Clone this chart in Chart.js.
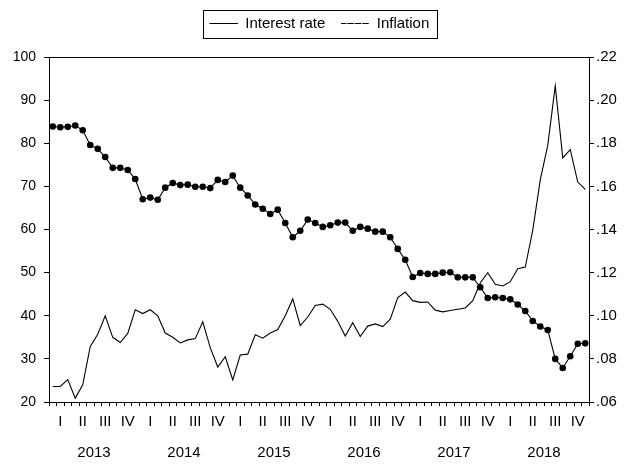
<!DOCTYPE html>
<html>
<head>
<meta charset="utf-8">
<script src="https://cdn.jsdelivr.net/npm/chart.js@4.4.1/dist/chart.umd.min.js"></script>
<style>
  html, body { margin: 0; padding: 0; background: #fff; }
</style>
</head>
<body>
<canvas id="chart" width="630" height="465"></canvas>
<script>
// Years and quarter names shown under the time axis
const years = [2013, 2014, 2015, 2016, 2017, 2018];
const quarterNames = ['I', 'II', 'III', 'IV'];

// Monthly categories, Jan 2013 .. Dec 2018
const months = [];
years.forEach(y => {
    for (let m = 1; m <= 12; m++) months.push(y + 'M' + String(m).padStart(2, '0'));
});

// Interest rate, left axis
const interestRate = [
    23.6, 23.6, 25.2, 20.9, 24.0, 32.9, 35.7, 40.0, 35.0, 33.8, 35.9, 41.4,
    40.5, 41.4, 40.0, 36.0, 35.0, 33.7, 34.4, 34.7, 38.6, 32.6, 28.1, 30.5,
    25.1, 30.9, 31.1, 35.6, 34.8, 36.0, 36.8, 40.0, 43.9, 37.7, 39.7, 42.4,
    42.7, 41.5, 38.7, 35.3, 38.4, 35.2, 37.6, 38.1, 37.5, 39.2, 44.2, 45.5,
    43.5, 43.1, 43.2, 41.3, 40.9, 41.2, 41.5, 41.8, 43.5, 47.6, 50.0, 47.3,
    46.9, 47.9, 50.9, 51.3, 59.8, 71.5, 79.5, 93.3, 76.6, 78.5, 71.0, 69.3
];

// Inflation, right axis
const inflation = [
    .1878, .1874, .1876, .1882, .1860, .1792, .1774, .1736, .1686, .1686, .1676, .1634,
    .1540, .1548, .1538, .1594, .1616, .1606, .1608, .1598, .1598, .1592, .1630, .1620,
    .1650, .1594, .1558, .1516, .1496, .1472, .1492, .1430, .1364, .1394, .1446, .1430,
    .1412, .1420, .1432, .1432, .1394, .1412, .1404, .1390, .1390, .1364, .1310, .1260,
    .1180, .1198, .1194, .1194, .1200, .1202, .1178, .1178, .1178, .1132, .1082, .1086,
    .1082, .1076, .1052, .1022, .0976, .0950, .0934, .0800, .0758, .0812, .0870, .0872
];

// Line sample used for each series in the legend
const legendDash = [[], [5, 2.5]];

const FONT = { family: "'Liberation Sans', Arial, sans-serif", size: 14 };
const X_FONT = { family: "'Liberation Sans', Arial, sans-serif", size: 15 };
const LEGEND_FONT = { family: "'Liberation Sans', Arial, sans-serif", size: 15 };

// Frame round the legend and top edge of the plot box
const framePlugin = {
    id: 'frames',
    afterDraw(chart) {
        const { ctx, chartArea: a, legend } = chart;
        ctx.save();
        ctx.strokeStyle = '#000';
        ctx.lineWidth = 1;
        ctx.beginPath();
        ctx.moveTo(a.left, Math.round(a.top) + 0.5);
        ctx.lineTo(a.right, Math.round(a.top) + 0.5);
        ctx.stroke();

        const hb = legend.legendHitBoxes;
        const last = hb[hb.length - 1];
        const l = Math.round(hb[0].left - 7), r = Math.round(last.left + last.width + 8);
        const t = Math.round(hb[0].top - 6), b = Math.round(hb[0].top + hb[0].height + 7);
        ctx.strokeRect(l + 0.5, t + 0.5, r - l, b - t);
        ctx.restore();
    }
};

new Chart(document.getElementById('chart').getContext('2d'), {
    type: 'line',
    data: {
        labels: months,
        datasets: [{
            label: 'Interest rate',
            data: interestRate,
            yAxisID: 'y',
            borderColor: '#000',
            borderWidth: 1.1,
            pointRadius: 0,
            tension: 0
        }, {
            label: 'Inflation',
            data: inflation,
            yAxisID: 'y2',
            borderColor: '#000',
            borderWidth: 1.1,
            pointRadius: 3.3,
            pointBorderWidth: 0,
            pointBackgroundColor: '#000',
            tension: 0
        }]
    },
    options: {
        responsive: false,
        devicePixelRatio: 1,
        animation: false,
        layout: { padding: { left: 9, right: 0, top: 0, bottom: 0 } },
        plugins: {
            legend: {
                position: 'top',
                weight: 3000,
                labels: {
                    font: LEGEND_FONT,
                    color: '#000',
                    boxWidth: 28,
                    boxHeight: 0,
                    padding: 16,
                    generateLabels: chart => chart.data.datasets.map((ds, i) => ({
                        text: ds.label,
                        fillStyle: 'rgba(0,0,0,0)',
                        strokeStyle: '#000',
                        lineWidth: 1,
                        lineDash: legendDash[i],
                        hidden: false,
                        datasetIndex: i
                    }))
                }
            },
            // empty title used as a spacer between legend and plot
            title: {
                display: true,
                text: '',
                font: { size: 10, lineHeight: 1 },
                padding: { top: 0, bottom: 6 }
            },
            tooltip: { enabled: false }
        },
        scales: {
            x: {
                type: 'category',
                position: 'bottom',
                weight: 0,
                offset: true,
                grid: { offset: true, drawOnChartArea: false, tickLength: 4, color: '#000' },
                border: { color: '#000' },
                ticks: {
                    autoSkip: false, maxRotation: 0, minRotation: 0,
                    padding: 7, font: X_FONT, color: '#000',
                    callback: (v, i) => (i % 3 === 1 ? quarterNames[Math.floor(i / 3) % 4] : '')
                },
                afterFit: s => { s.height = 27; }
            },
            yr: {
                type: 'category',
                position: 'bottom',
                weight: 1,
                offset: true,
                grid: { display: false, drawTicks: false },
                border: { display: false },
                ticks: {
                    autoSkip: false, maxRotation: 0, minRotation: 0,
                    padding: 15, labelOffset: 3.75, font: X_FONT, color: '#000',
                    callback: (v, i) => (i % 12 === 5 ? String(years[Math.floor(i / 12)]) : '')
                },
                afterFit: s => { s.height = 36; }
            },
            y: {
                position: 'left',
                min: 20, max: 100,
                grid: { drawOnChartArea: false, tickLength: 5, color: '#000' },
                border: { color: '#000' },
                ticks: { stepSize: 10, padding: 8, font: FONT, color: '#000' },
                afterFit: s => { s.width = 40; }
            },
            y2: {
                position: 'right',
                min: 0.06, max: 0.22,
                grid: { drawOnChartArea: false, tickLength: 5, color: '#000' },
                border: { color: '#000' },
                ticks: {
                    stepSize: 0.02, padding: 2, font: X_FONT, color: '#000',
                    callback: v => v.toFixed(2).replace(/^0/, '')
                },
                afterFit: s => { s.width = 41; }
            }
        }
    },
    plugins: [framePlugin]
});
</script>
</body>
</html>
